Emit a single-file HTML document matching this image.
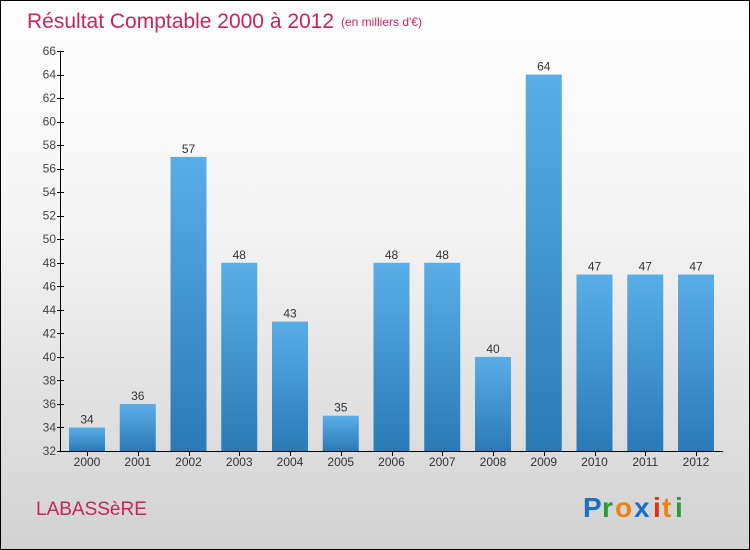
<!DOCTYPE html>
<html><head><meta charset="utf-8"><style>
body{margin:0}
#wrap{position:relative;width:748px;height:548px;border:1px solid #000;background:linear-gradient(#ffffff 0%,#f4f4f4 40%,#d2d2d2 100%);font-family:"Liberation Sans",sans-serif;overflow:hidden}
</style></head><body>
<div id="wrap">
<svg id="chart" width="748" height="548">
<defs><linearGradient id="bg" x1="0" y1="0" x2="0" y2="1"><stop offset="0" stop-color="#5aaee8"/><stop offset="1" stop-color="#2a7ab8"/></linearGradient></defs>
<text x="26" y="27" font-size="21" fill="#c8235a">Résultat Comptable 2000 à 2012</text>
<text x="340" y="25" font-size="12" fill="#c8235a">(en milliers d'€)</text>
<text x="35" y="514" font-size="19" fill="#c8235a">LABASSèRE</text>
<g font-size="28" font-weight="bold">
<text x="582" y="516" fill="#1a6fc8">P</text><text x="601" y="516" fill="#2a9a3a">r</text><text x="614" y="516" fill="#f08010">o</text><text x="633" y="516" fill="#1a6fc8">x</text><text x="652" y="516" fill="#e03010">i</text><text x="661" y="516" fill="#f08010">t</text><text x="674" y="516" fill="#2a9a3a">i</text>
</g>
<g id="axes"></g><g id="bars"></g>
</svg>
</div>
<script>
const categories=["2000","2001","2002","2003","2004","2005","2006","2007","2008","2009","2010","2011","2012"];
const values=[34,36,57,48,43,35,48,48,40,64,47,47,47];
const yTicks=[32,34,36,38,40,42,44,46,48,50,52,54,56,58,60,62,64,66];
const yMin=32,yMax=66,plotTop=50,plotBot=450,x0=86,step=50.75,bw=36;
const ns="http://www.w3.org/2000/svg";
const y=v=>plotBot-(v-yMin)/(yMax-yMin)*(plotBot-plotTop);
const x=i=>x0+i*step;
const ax=document.getElementById('axes'),bg=document.getElementById('bars');
function mk(tag,attrs,parent,txt){const e=document.createElementNS(ns,tag);for(const k in attrs)e.setAttribute(k,attrs[k]);if(txt!==undefined)e.textContent=txt;parent.appendChild(e);return e;}
let l=mk('line',{x1:59.5,x2:59.5,y1:plotTop,y2:plotBot,stroke:'#000'},ax);


l=mk('line',{x1:59.5,x2:722,y1:plotBot+0.5,y2:plotBot+0.5,stroke:'#000'},ax);


yTicks.forEach(t=>{
 const tk=mk('line',{x1:56,x2:63,y1:Math.round(y(t))+0.5,y2:Math.round(y(t))+0.5,stroke:'#000'},ax);
 
 
 const tl=mk('text',{x:55,y:y(t)+4,'font-size':12,fill:'#444','text-anchor':'end'},ax,t);
 
 
});
categories.forEach((c,i)=>{
 const tk=mk('line',{x1:Math.round(x(i))+0.5,x2:Math.round(x(i))+0.5,y1:plotBot,y2:plotBot+5,stroke:'#000'},ax);
 
 
 const tl=mk('text',{x:x(i),y:plotBot+15,'font-size':12,fill:'#333','text-anchor':'middle'},ax,c);
 
 
 const r=mk('rect',{x:x(i)-bw/2,y:y(values[i]),width:bw,height:plotBot-y(values[i]),fill:'url(#bg)'},bg);
 
 
 const v=mk('text',{x:x(i),y:y(values[i])-4,'font-size':12,fill:'#333','text-anchor':'middle'},bg,values[i]);
 
 
});
</script>
</body></html>
